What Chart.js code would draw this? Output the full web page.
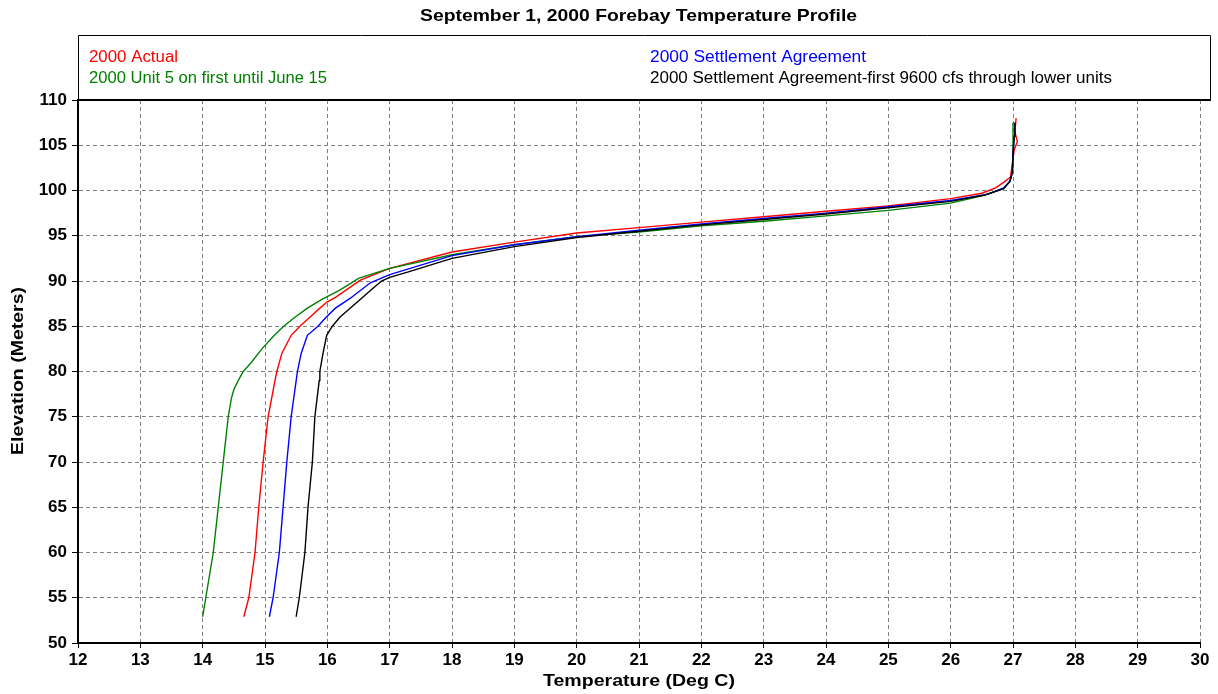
<!DOCTYPE html>
<html>
<head>
<meta charset="utf-8">
<script src="https://cdn.jsdelivr.net/npm/chart.js@4.4.0/dist/chart.umd.min.js"></script>
<style>
  html, body { margin: 0; padding: 0; background: #ffffff; }
  #wrap { width: 1218px; height: 694px; position: relative; }
</style>
</head>
<body>
<div id="wrap"><canvas id="c" width="1218" height="694"></canvas></div>
<script>
// ---- Data ----
const chartTitle = "September 1, 2000 Forebay Temperature Profile";
const xTitle = "Temperature (Deg C)";
const yTitle = "Elevation (Meters)";
const seriesNames = [
  "2000 Actual",
  "2000 Unit 5 on first until June 15",
  "2000 Settlement Agreement",
  "2000 Settlement Agreement-first 9600 cfs through lower units"
];

const actualTemp = [14.66, 14.74, 14.84, 14.9, 14.97, 15.05, 15.16, 15.19, 15.27, 15.42, 15.56, 15.72, 15.88, 16.0, 16.13, 16.3, 16.53, 17, 18, 19, 20, 21, 22, 23, 24, 25, 26, 26.5, 26.72, 26.85, 26.96, 26.99, 27.02, 27.07, 27.03, 27.05];
const actualElev = [52.9, 55, 60, 65, 70, 75, 79, 80, 82, 84, 85, 86, 87, 87.7, 88.2, 89, 90.1, 91.4, 93.2, 94.3, 95.3, 95.9, 96.5, 97.1, 97.7, 98.3, 99.1, 99.7, 100.3, 100.9, 101.5, 103, 104.5, 105.4, 106.5, 108];

const unit5Temp = [14.0, 14.05, 14.17, 14.25, 14.33, 14.41, 14.46, 14.5, 14.57, 14.65, 14.78, 14.95, 15.15, 15.3, 15.48, 15.68, 15.92, 16.2, 16.5, 17, 18, 19, 20, 21, 22, 23, 24, 25, 26, 26.5, 26.85, 26.95, 26.99, 27.0, 27.0, 27.0];
const unit5Elev = [52.9, 55, 60, 65, 70, 75, 77, 78, 79, 80, 81, 82.5, 84, 85, 86, 87, 88, 89, 90.3, 91.4, 92.9, 94.0, 94.9, 95.4, 96.1, 96.6, 97.2, 97.8, 98.6, 99.4, 100.2, 101, 102, 104, 106, 107.5];

const settleTemp = [15.07, 15.13, 15.23, 15.29, 15.35, 15.42, 15.5, 15.52, 15.58, 15.68, 15.85, 15.98, 16.13, 16.37, 16.69, 17, 18, 19, 20, 21, 22, 23, 24, 25, 26, 26.6, 26.85, 26.95, 26.99, 27.0, 27.02, 27.03];
const settleElev = [52.9, 55, 60, 65, 70, 75, 79, 80, 82, 84, 85, 86, 87, 88.1, 89.8, 90.7, 92.8, 94.0, 94.9, 95.6, 96.3, 96.9, 97.5, 98.2, 98.9, 99.6, 100.3, 101, 102, 104, 106, 107.5];

const lowerTemp = [15.5, 15.55, 15.64, 15.69, 15.76, 15.8, 15.87, 15.88, 15.93, 15.99, 16.08, 16.2, 16.55, 16.7, 16.87, 17.0, 17.3, 18, 19, 20, 21, 22, 23, 24, 25, 26, 26.55, 26.85, 26.95, 26.99, 27.0, 27.02, 27.03];
const lowerElev = [52.9, 55, 60, 65, 70, 75, 79, 80, 82, 84, 85, 86, 88.1, 89, 90, 90.4, 91, 92.5, 93.8, 94.8, 95.5, 96.2, 96.8, 97.4, 98.1, 98.8, 99.5, 100.2, 101, 102, 104, 106, 107.5];

const xTicks = [12, 13, 14, 15, 16, 17, 18, 19, 20, 21, 22, 23, 24, 25, 26, 27, 28, 29, 30];
const yTicks = [50, 55, 60, 65, 70, 75, 80, 85, 90, 95, 100, 105, 110];

const colors = ["#ff0000", "#008000", "#0000ff", "#000000"];

function pts(t, e) { return t.map((v, i) => ({ x: v, y: e[i] })); }

const seriesData = [pts(actualTemp, actualElev), pts(unit5Temp, unit5Elev), pts(settleTemp, settleElev), pts(lowerTemp, lowerElev)];
const drawOrder = [4, 3, 2, 1];

const FONT = "'Liberation Sans', Arial, sans-serif";

// draw text stretched horizontally to a target width
function stretchText(ctx, text, x, y, targetW, align, rot) {
  const w = ctx.measureText(text).width;
  const sx = targetW / w;
  ctx.save();
  ctx.translate(x, y);
  if (rot) ctx.rotate(rot);
  ctx.scale(sx, 1);
  ctx.textAlign = align;
  ctx.textBaseline = 'middle';
  ctx.fillText(text, 0, 0);
  ctx.restore();
}

const decor = {
  id: 'decor',
  afterDraw(chart) {
    const ctx = chart.ctx;
    const ca = chart.chartArea;
    ctx.save();
    ctx.fillStyle = '#000';
    // title
    ctx.font = "bold 17px " + FONT;
    stretchText(ctx, chartTitle, 638.5, 16, 437, 'center', 0);
    // axis titles
    stretchText(ctx, xTitle, 639, 681, 192, 'center', 0);
    stretchText(ctx, yTitle, 18, 371, 168, 'center', -Math.PI / 2);
    // legend box
    ctx.strokeStyle = '#000';
    ctx.lineWidth = 1;
    ctx.beginPath();
    ctx.moveTo(ca.left + 0.5, ca.top);
    ctx.lineTo(ca.left + 0.5, 35.5);
    ctx.lineTo(1210.5, 35.5);
    ctx.lineTo(1210.5, ca.top);
    ctx.stroke();
    ctx.lineWidth = 2;
    ctx.beginPath();
    ctx.moveTo(ca.left, ca.top);
    ctx.lineTo(1211, ca.top);
    ctx.stroke();
    // legend texts
    ctx.font = "16px " + FONT;
    const pos = [[89, 58, 89], [89, 79, 238], [650, 58, 216], [650, 79, 462]];
    seriesNames.forEach((n, i) => {
      ctx.fillStyle = colors[i];
      stretchText(ctx, n, pos[i][0], pos[i][1], pos[i][2], 'left', 0);
    });
    ctx.restore();
  }
};

new Chart(document.getElementById('c'), {
  type: 'scatter',
  data: {
    datasets: seriesNames.map((n, i) => ({
      label: n,
      data: seriesData[i],
      showLine: true,
      borderColor: colors[i],
      backgroundColor: colors[i],
      borderWidth: 1.4,
      pointRadius: 0,
      pointHoverRadius: 0,
      tension: 0,
      fill: false,
      order: drawOrder[i]
    }))
  },
  options: {
    responsive: false,
    animation: false,
    events: [],
    layout: { padding: { left: 0, right: 18, top: 100, bottom: 0 } },
    plugins: { legend: { display: false }, title: { display: false }, tooltip: { enabled: false } },
    scales: {
      x: {
        type: 'linear',
        min: xTicks[0], max: xTicks[xTicks.length - 1],
        afterBuildTicks(scale) { scale.ticks = xTicks.map(v => ({ value: v })); },
        afterFit(scale) { scale.height = 51; },
        ticks: { color: '#000', font: { family: FONT, size: 17, weight: 'bold' }, padding: 2, maxRotation: 0, autoSkip: false },
        grid: { color: '#808080', lineWidth: 1, tickLength: 5, tickColor: '#000', tickWidth: 1, tickBorderDash: [] },
        border: { display: true, color: '#000', width: 2, dash: [4, 3] },
        title: { display: false }
      },
      y: {
        type: 'linear',
        min: yTicks[0], max: yTicks[yTicks.length - 1],
        afterBuildTicks(scale) { scale.ticks = yTicks.map(v => ({ value: v })); },
        afterFit(scale) { scale.width = 78; },
        ticks: { color: '#000', font: { family: FONT, size: 17, weight: 'bold' }, padding: 5 },
        grid: { color: '#808080', lineWidth: 1, tickLength: 6, tickColor: '#000', tickWidth: 1, tickBorderDash: [] },
        border: { display: true, color: '#000', width: 2, dash: [4, 3] },
        title: { display: false }
      }
    }
  },
  plugins: [decor]
});
</script>
</body>
</html>
